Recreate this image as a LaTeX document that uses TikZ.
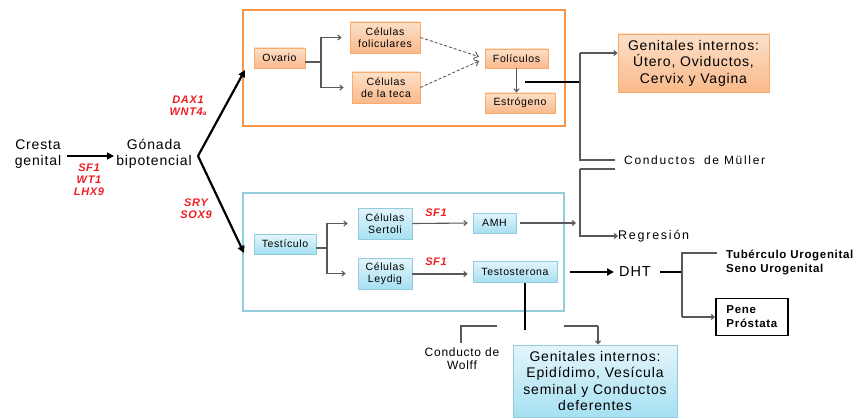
\documentclass[tikz,border=0pt]{standalone}
\usepackage{fontspec}
\setmainfont{Liberation Sans}[LetterSpace=6]
\newfontfamily\widefont{Liberation Sans}[LetterSpace=14]
\usetikzlibrary{arrows.meta}
\definecolor{oedge}{HTML}{F79646}
\definecolor{otop}{HTML}{FCE0C8}
\definecolor{obot}{HTML}{F9B98C}
\definecolor{bedge}{HTML}{93CDDD}
\definecolor{btop}{HTML}{E4F5FB}
\definecolor{bbot}{HTML}{A6E0F2}
\definecolor{cgray}{HTML}{595959}
\definecolor{lred}{HTML}{F01E23}
\tikzset{
  obox/.style={rectangle, draw=oedge!80, line width=0.8pt, top color=otop, bottom color=obot, align=center, inner sep=1pt, font=\fontsize{10.5}{12}\selectfont},
  bbox/.style={rectangle, draw=bedge, line width=0.8pt, top color=btop, bottom color=bbot, align=center, inner sep=1pt, font=\fontsize{10.5}{12}\selectfont},
  conn/.style={draw=cgray, line width=1.1pt, -{Straight Barb[length=3pt,width=5pt]}},
  plain/.style={draw=cgray, line width=1.1pt},
  dconn/.style={draw=cgray, line width=0.9pt, densely dashed, -{Straight Barb[length=4pt,width=7pt]}},
  thickl/.style={draw=black, line width=2.6pt},
  thicka/.style={draw=black, line width=2.2pt, -{Triangle[length=7pt,width=7pt]}},
  redlab/.style={text=lred, font=\fontsize{11}{12}\selectfont\bfseries\itshape, align=center, inner sep=0pt},
  bigtxt/.style={font=\fontsize{14}{15.5}\selectfont, align=center, inner sep=0pt},
}
\begin{document}
\begin{tikzpicture}[x=1pt,y=-1pt]
\useasboundingbox[fill=white] (0,0) rectangle (858,417);

% big frames
\draw[oedge, line width=2pt] (243,10) rectangle (565,126);
\draw[bedge, line width=2pt] (243,193) rectangle (564,311);

% left
\node[bigtxt] (cr) at (38,154) {Cresta\\genital};
\node[bigtxt] (gb) at (154,154) {Gónada\\bipotencial};
\node[redlab] (l1) at (89,180) {SF1\\WT1\\LHX9};
\node[redlab] (l2) at (188,106) {DAX1\\WNT4{\fontsize{6.5}{6}\selectfont a}};
\node[redlab] (l3) at (196,209) {SRY\\SOX9};
\coordinate (g1) at (198,156);
\coordinate (tipU) at (245,70);
\coordinate (tipD) at (244,253);
\draw[thicka, line width=1.4pt] (67,156) coordinate (ca) -- (114,156) coordinate (cb);
\draw[thicka] (g1) -- (tipU);
\draw[thicka] (g1) -- (tipD);

% ovary
\node[obox, minimum width=51pt, minimum height=20pt] (ov) at (279.5,58) {Ovario};
\node[obox, minimum width=70pt, minimum height=31pt] (fc) at (385,37.5) {Células\\foliculares};
\node[obox, minimum width=68pt, minimum height=31pt] (tc) at (386,87.5) {Células\\de la teca};
\node[obox, minimum width=63pt, minimum height=19pt] (fo) at (516.5,58.5) {Folículos};
\node[obox, minimum width=70pt, minimum height=20pt] (es) at (520,103) {Estrógeno};
\coordinate (ob) at (321,62);
\draw[plain] (ov.east |- ob) -- (ob);
\draw[conn, shorten >=8pt] (ob) |- (fc.west);
\draw[conn, shorten >=8pt] (ob) |- (tc.west);
\draw[dconn, shorten >=6pt] (fc.east) -- (fo.west);
\draw[dconn, shorten >=6pt] (tc.east) -- (fo.west);
\draw[conn] (fo.south) -- (es.north -| fo.south);

\node[obox, font=\fontsize{14}{16.5}\selectfont, minimum width=151pt, minimum height=58pt] (gio) at (693.5,63) {Genitales internos:\\Útero, Oviductos,\\Cervix y Vagina};
\coordinate (e1) at (525,82);
\coordinate (m1) at (580,82);
\coordinate (m0) at (580,53);
\coordinate (m2) at (580,160);
\draw[thickl] (e1) -- (m1);
\draw[conn] (m0) -- (gio.west |- m0);
\node[anchor=west, font=\widefont\fontsize{12}{13}\selectfont, inner sep=0pt] (mu) at (624,160) {Conductos\,\, de Müller};
\draw[plain] (m0) -- (m2) -- (615,160);
\coordinate (r0) at (580,169);
\node[anchor=west, font=\widefont\fontsize{12.5}{13}\selectfont, inner sep=0pt] (rg) at (618,236) {Regresión};
\draw[plain] (615,169) -- (r0);
\draw[conn] (r0) |- (rg.west);

% testis
\node[bbox, minimum width=62pt, minimum height=20pt] (te) at (285,244) {Testículo};
\node[bbox, minimum width=54pt, minimum height=31pt] (se) at (385,223.5) {Células\\Sertoli};
\node[bbox, minimum width=54pt, minimum height=31pt] (le) at (385,273.5) {Células\\Leydig};
\node[bbox, minimum width=43pt, minimum height=20pt] (am) at (494.5,223) {AMH};
\node[bbox, minimum width=84pt, minimum height=21pt] (ts) at (515,271.5) {Testosterona};
\node[redlab] (s1) at (436,213) {SF1};
\node[redlab] (s2) at (436,262) {SF1};
\coordinate (tb) at (327,248);
\draw[plain] (te.east |- tb) -- (tb);
\draw[conn, shorten >=10pt] (tb) |- (se.west);
\draw[conn, shorten >=12pt] (tb) |- (le.west);
\draw[conn, shorten >=5pt] (se.east) -- (am.west);
\draw[conn, shorten >=5pt] (le.east |- 0,274) -- (ts.west |- 0,274);
\coordinate (am2) at (576,223);
\draw[conn, shorten <=4pt] (am.east) -- (am2);

% DHT
\node[font=\fontsize{14.5}{15}\selectfont, inner sep=0pt, anchor=west] (dht) at (619,272) {DHT};
\draw[thicka, shorten <=13pt] (ts.east |- 0,272) -- (614,272);
\coordinate (d0) at (682,272);
\draw[thickl, line width=2.4pt] (660,272) -- (d0);
\node[anchor=west, align=left, inner sep=0pt, font=\fontsize{11.5}{14}\selectfont\bfseries] (tu) at (726,262) {Tubérculo Urogenital\\Seno Urogenital};
\node[draw=black, line width=1.8pt, fill=white, align=left, anchor=west, minimum width=72pt, minimum height=37pt, inner sep=4pt, font=\fontsize{11.5}{14}\selectfont\bfseries] (pp) at (715,317) {Pene\\Próstata};
\draw[plain] (717,253) -- (682,253) -- (682,317);
\draw[conn] (682,317) -- (pp.west);

% Wolff
\coordinate (w0) at (525,283);
\coordinate (w1) at (525,330);
\draw[thickl] (w0) -- (w1);
\node[font=\fontsize{12}{13}\selectfont, align=center, inner sep=0pt] (wo) at (462,359) {Conducto de\\Wolff};
\node[bbox, font=\fontsize{14}{16.5}\selectfont, minimum width=164pt, minimum height=72pt] (gib) at (595,381) {Genitales internos:\\Epidídimo, Vesícula\\seminal y Conductos\\deferentes};
\draw[plain] (497,326) -- (461,326) -- (461,343);
\draw[plain] (564,326) -- (598,326);
\draw[conn] (598,326) -- (gib.north -| 598,0);
\end{tikzpicture}
\end{document}
